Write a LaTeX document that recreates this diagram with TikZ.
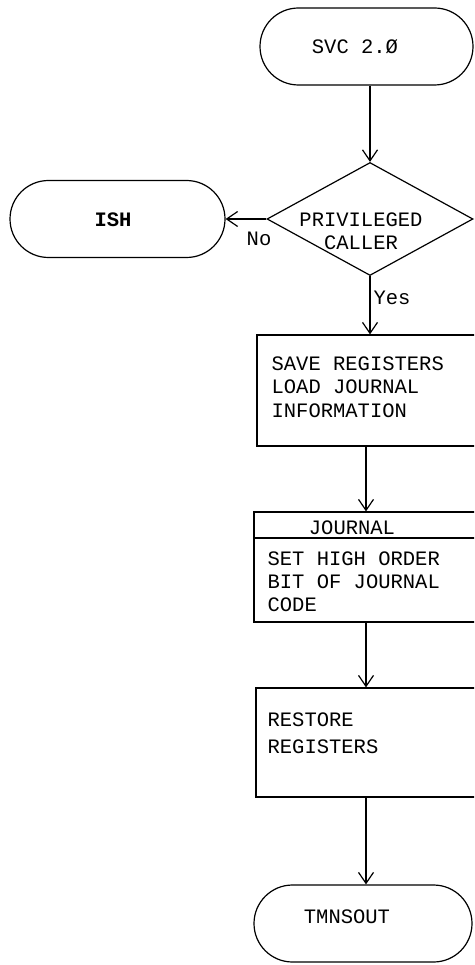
\documentclass[tikz,border=0pt]{standalone}
\usepackage{fontspec}
\setmonofont{Liberation Mono}
\usetikzlibrary{shapes.misc,shapes.geometric,arrows.meta}
\begin{document}
\begin{tikzpicture}[x=1pt,y=-1pt,line width=1.2pt,
  font=\ttfamily\fontsize{20.5}{24}\selectfont,
  term/.style={rounded rectangle,draw,minimum height=77pt,inner sep=0pt},
  dia/.style={diamond,draw,minimum width=206pt,minimum height=113pt,inner sep=0pt},
  boxx/.style={rectangle,draw,inner sep=0pt},
  txt/.style={inner sep=0pt,align=left,anchor=west},
  arr/.style={-{Straight Barb[length=11pt,width=15pt,line width=1.2pt]}}]
\useasboundingbox (0,0) rectangle (474,965);
\clip (0,0) rectangle (474,965);
% terminals
\node[term,minimum width=213pt] (svc) at (366.5,46.5) {};
\node[inner sep=0pt] (svct) at (355,47) {SVC 2.Ø};
\node[term,minimum width=215pt] (ish) at (117.5,219) {};
\node[inner sep=0pt,font=\ttfamily\bfseries\fontsize{20.5}{24}\selectfont] (isht) at (113,220) {ISH};
% decision
\node[dia] (dec) at (370,219) {};
\node[inner sep=0pt,align=center,font=\ttfamily\fontsize{20.5}{23}\selectfont] (dect) at (361,231) {PRIVILEGED\\CALLER};
\node[inner sep=0pt] (no) at (259,239) {No};
\node[inner sep=0pt] (yes) at (392,298) {Yes};
% box 1
\node[boxx,minimum width=233pt,minimum height=111pt] (b1) at (373.5,390.5) {};
\node[txt,font=\ttfamily\fontsize{20.5}{23.5}\selectfont] (b1t) at (271,387) {SAVE REGISTERS\\LOAD JOURNAL\\INFORMATION};
% box 2
\node[boxx,minimum width=236pt,minimum height=110pt] (b2) at (372,567) {};
\draw (254,538) -- (490,538);
\node[inner sep=0pt] (b2h) at (352,528) {JOURNAL};
\node[txt,font=\ttfamily\fontsize{20.5}{23}\selectfont] (b2t) at (267,582) {SET HIGH ORDER\\BIT OF JOURNAL\\CODE};
% box 3
\node[boxx,minimum width=234pt,minimum height=109pt] (b3) at (373,742.5) {};
\node[txt,font=\ttfamily\fontsize{20.5}{27}\selectfont] (b3t) at (267,733.5) {RESTORE\\REGISTERS};
% end
\node[term,minimum width=218pt] (tm) at (363,923.5) {};
\node[inner sep=0pt] (tmt) at (347,917) {TMNSOUT};
% connectors
\coordinate (ax) at (366,0);
\draw[arr] (svc.south -| dec.north) -- (dec.north);
\draw[arr] (dec.west) -- (ish.east);
\draw[arr] (dec.south) -- (dec.south |- b1.north);
\draw[arr] (b1.south -| ax) -- (b2.north -| ax);
\draw[arr] (b2.south -| ax) -- (b3.north -| ax);
\draw[arr] (b3.south -| ax) -- (tm.north -| ax);
\end{tikzpicture}
\end{document}
